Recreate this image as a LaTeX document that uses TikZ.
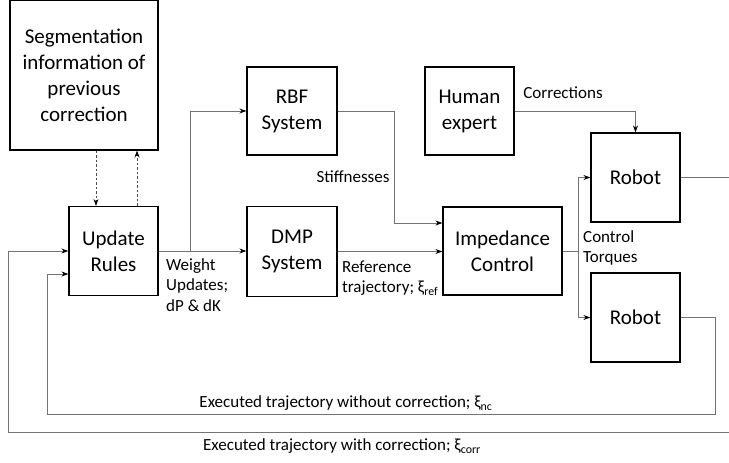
\documentclass[tikz,border=0pt]{standalone}
\usepackage{fontspec}
\setmainfont{Carlito}
\usetikzlibrary{arrows.meta,calc}
\begin{document}
\begin{tikzpicture}[x=1pt,y=-1pt,
  box/.style={draw=black,line width=1.2pt,rectangle,align=center,inner sep=0pt,
    font=\fontsize{21}{26}\selectfont},
  conn/.style={draw=black!55,line width=0.9pt,-{Stealth[length=7pt,width=5pt,black]}},
  plain/.style={draw=black!55,line width=0.9pt},
  dconn/.style={draw=black!70,line width=0.9pt,dashed,dash pattern=on 2.5pt off 2pt,-{Stealth[length=7pt,width=5pt,black]}},
  lbl/.style={align=left,inner sep=0pt,font=\fontsize{17}{20.5}\selectfont}]
\useasboundingbox (0,0) rectangle (729,463);
\node[box,minimum width=148pt,minimum height=149.5pt] (seg) at (84,75.2) {Segmentation\\information of\\previous\\correction};
\node[box,minimum width=89pt,minimum height=89pt] (upd) at (113.5,251) {Update\\Rules};
\node[box,minimum width=90pt,minimum height=88pt] (rbf) at (292,111) {RBF\\System};
\node[box,minimum width=90pt,minimum height=90pt] (dmp) at (292,251.5) {DMP\\System};
\node[box,minimum width=89pt,minimum height=88pt] (hum) at (469.5,111) {Human\\expert};
\node[box,minimum width=119pt,minimum height=88pt] (imp) at (502.5,251) {Impedance\\Control};
\node[box,minimum width=89pt,minimum height=89pt] (rob1) at (635.5,177.5) {Robot};
\node[box,minimum width=89pt,minimum height=89pt] (rob2) at (635.5,317.5) {Robot};
% dashed
\draw[dconn] ([xshift=-17.5pt]upd.north |- seg.south) -- ([xshift=-17.5pt]upd.north);
\draw[dconn] ([xshift=23.5pt]upd.north) -- ([xshift=23.5pt]upd.north |- seg.south);
% connectors
\coordinate (wsplit) at (190,251);
\draw[plain] (upd.east) -- (wsplit);
\draw[conn] (wsplit) |- (rbf.west);
\draw[conn] (wsplit) -- (wsplit -| dmp.west);
\coordinate (s1) at (394,223);
\draw[conn] (rbf.east) -| (s1) -- (s1 -| imp.west);
\draw[conn] (dmp.east) -- (dmp.east -| imp.west);
\draw[conn] (hum.east) -| (rob1.north);
\coordinate (ct) at (578,251);
\draw[plain] (imp.east) -- (ct);
\draw[conn] (ct) |- (rob1.west);
\draw[conn] (ct) |- (rob2.west);
\coordinate (i1) at (715,414);
\coordinate (i2) at (47,274);
\draw[conn] (rob2.east) -| (i1) -| (i2) -- (i2 -| upd.west);
\coordinate (o1) at (731,432);
\coordinate (o2) at (8,251);
\draw[conn] (rob1.east) -| (o1) -| (o2) -- (upd.west);
% labels
\node[lbl,anchor=west] (lw) at (166,285) {Weight\\Updates;\\dP \& dK};
\node[lbl] (ls) at (353,177) {Stiffnesses};
\node[lbl,anchor=west] (lr) at (342,278) {Reference\\trajectory; ξ\textsubscript{ref}};
\node[lbl] (lc) at (563,93) {Corrections};
\node[lbl,anchor=west] (lt) at (583,248) {Control\\Torques};
\node[lbl] (ln) at (346,403) {Executed trajectory without correction; ξ\textsubscript{nc}};
\node[lbl] (lo) at (342,446) {Executed trajectory with correction; ξ\textsubscript{corr}};
\end{tikzpicture}
\end{document}
